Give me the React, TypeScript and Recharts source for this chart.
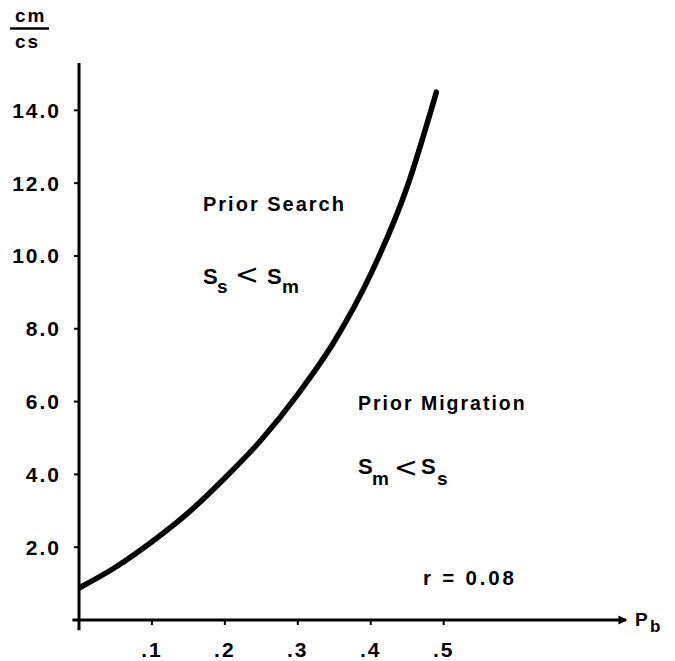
import React from "react";
import {
  LineChart,
  Line,
  XAxis,
  YAxis,
  ReferenceLine,
  ReferenceDot,
} from "recharts";

// Curve: cm/cs versus P_b
const pbValues = [0, 0.05, 0.1, 0.15, 0.2, 0.25, 0.3, 0.35, 0.4, 0.45, 0.49];
const ratioValues = [0.88, 1.45, 2.15, 2.95, 3.9, 4.95, 6.2, 7.65, 9.5, 11.9, 14.5];

const xTicks = [0.1, 0.2, 0.3, 0.4, 0.5];
const xTickLabels = [".1", ".2", ".3", ".4", ".5"];
const yTicks = [2, 4, 6, 8, 10, 12, 14];
const yTickLabels = ["2.0", "4.0", "6.0", "8.0", "10.0", "12.0", "14.0"];

const data = pbValues.map((x, i) => ({ x, y: ratioValues[i] }));

const FONT = "'Liberation Sans', Arial, Helvetica, sans-serif";

const tickStyle = {
  fill: "#000",
  fontSize: 21,
  fontWeight: 700,
  fontFamily: FONT,
  letterSpacing: 2,
};

const Arrow = (p: any) => {
  const { cx, cy } = p;
  if (cx == null || cy == null) return null;
  return (
    <path
      d={`M${cx - 9},${cy - 4.5} L${cx},${cy} L${cx - 9},${cy + 4.5} Z`}
      fill="#000"
    />
  );
};

export default function App() {
  const bold = { fontFamily: FONT, fontWeight: 700, fill: "#000" } as const;
  const lt = { fontFamily: "'DejaVu Sans', sans-serif", fontWeight: 400, fill: "#000" } as const;
  return (
    <div style={{ position: "absolute", left: 0, top: 0, width: 675, height: 661, background: "#fff" }}>
      <LineChart
        width={675}
        height={661}
        data={data}
        margin={{ top: 63, right: 49, left: 0, bottom: 0 }}
      >
        <XAxis
          type="number"
          dataKey="x"
          domain={[0, 0.75]}
          ticks={xTicks}
          tickFormatter={(v: number) => xTickLabels[xTicks.indexOf(v)] ?? ""}
          height={41}
          axisLine={{ stroke: "#000", strokeWidth: 3 }}
          tickLine={{ stroke: "#000", strokeWidth: 2 }}
          tickSize={5}
          tickMargin={17}
          tick={tickStyle}
          allowDataOverflow
        />
        <YAxis
          type="number"
          domain={[0, 15.3]}
          ticks={yTicks}
          tickFormatter={(v: number) => yTickLabels[yTicks.indexOf(v)] ?? ""}
          width={79}
          axisLine={{ stroke: "#000", strokeWidth: 3 }}
          tickLine={{ stroke: "#000", strokeWidth: 2 }}
          tickSize={5}
          tickMargin={13}
          tick={tickStyle}
          allowDataOverflow
        />
        <ReferenceLine
          segment={[
            { x: -0.009, y: 0 },
            { x: 0, y: 0 },
          ]}
          stroke="#000"
          strokeWidth={3}
          ifOverflow="visible"
        />
        <ReferenceLine
          segment={[
            { x: 0, y: 0 },
            { x: 0, y: -0.28 },
          ]}
          stroke="#000"
          strokeWidth={3}
          ifOverflow="visible"
        />
        <ReferenceDot x={0.752} y={0} r={0} ifOverflow="visible" shape={Arrow} />
        <Line
          type="monotone"
          dataKey="y"
          stroke="#000"
          strokeWidth={5.5}
          strokeLinecap="round"
          dot={false}
          activeDot={false}
          isAnimationActive={false}
        />
      </LineChart>
      <svg
        width={675}
        height={661}
        style={{ position: "absolute", left: 0, top: 0, pointerEvents: "none" }}
      >
        {/* y-axis unit: cm / cs */}
        <text x={15} y={22} fontSize={19} letterSpacing={2} {...bold}>cm</text>
        <line x1={10} y1={28.5} x2={49} y2={28.5} stroke="#000" strokeWidth={2.5} />
        <text x={15} y={48} fontSize={19} letterSpacing={2} {...bold}>cs</text>

        {/* Prior Search region */}
        <text x={203} y={211} fontSize={20} letterSpacing={2} {...bold}>Prior Search</text>
        <text x={203} y={284} fontSize={22} {...bold}>S</text>
        <text x={217} y={293} fontSize={19} {...bold}>s</text>
        <text x={247} y={284} fontSize={29} textAnchor="middle" {...lt}>&lt;</text>
        <text x={267} y={284} fontSize={22} {...bold}>S</text>
        <text x={282} y={293} fontSize={19} {...bold}>m</text>

        {/* Prior Migration region */}
        <text x={358} y={409.5} fontSize={19.5} letterSpacing={2} {...bold}>Prior Migration</text>
        <text x={358} y={474} fontSize={22} {...bold}>S</text>
        <text x={372} y={485} fontSize={19} {...bold}>m</text>
        <text x={406} y={477} fontSize={29} textAnchor="middle" {...lt}>&lt;</text>
        <text x={421} y={474} fontSize={22} {...bold}>S</text>
        <text x={437} y={485} fontSize={19} {...bold}>s</text>

        {/* correlation */}
        <text x={423} y={585} fontSize={20.5} letterSpacing={2.8} {...bold}>r = 0.08</text>

        {/* x-axis label P_b */}
        <text x={635} y={625.5} fontSize={19} {...bold}>P</text>
        <text x={650} y={632} fontSize={17} {...bold}>b</text>
      </svg>
    </div>
  );
}
